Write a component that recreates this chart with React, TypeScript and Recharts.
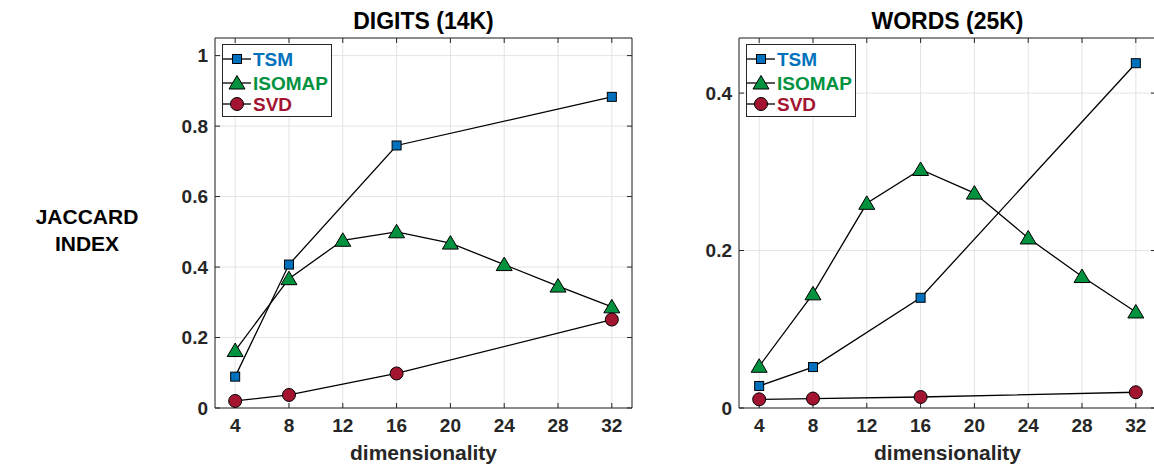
import { LineChart, Line, XAxis, YAxis, CartesianGrid, Legend } from 'recharts';

// dimensionality values per series
const tsmDims = [4, 8, 16, 32];
const isomapDims = [4, 8, 12, 16, 20, 24, 28, 32];
const svdDims = [4, 8, 16, 32];
const xTicks = [4, 8, 12, 16, 20, 24, 28, 32];

// DIGITS (14K)
const digitsTsm = [0.089, 0.407, 0.745, 0.883];
const digitsIsomap = [0.163, 0.367, 0.476, 0.5, 0.468, 0.407, 0.346, 0.287];
const digitsSvd = [0.02, 0.037, 0.098, 0.251];
const digitsTicks = [0, 0.2, 0.4, 0.6, 0.8, 1];

// WORDS (25K)
const wordsTsm = [0.028, 0.052, 0.14, 0.438];
const wordsIsomap = [0.053, 0.145, 0.26, 0.303, 0.273, 0.216, 0.167, 0.122];
const wordsSvd = [0.011, 0.012, 0.014, 0.02];
const wordsTicks = [0, 0.2, 0.4];

const seriesNames = ['TSM', 'ISOMAP', 'SVD'];
const seriesColors = ['#0072BD', '#00923f', '#A2142F'];

const FONT = '"Liberation Sans", Arial, Helvetica, sans-serif';
const AXIS = '#262626';
const GRID = '#e3e3e3';

const toRows = (xs: number[], ys: number[]) => xs.map((x, i) => ({ x, y: ys[i] }));

function Marker({ kind, cx, cy, color }: { kind: number; cx: number; cy: number; color: string }) {
  if (kind === 0) {
    return <rect x={cx - 4.5} y={cy - 4.5} width={9} height={9} fill={color} stroke="#000" strokeWidth={1} />;
  }
  if (kind === 1) {
    return (
      <polygon
        points={`${cx},${cy - 7.5} ${cx - 8},${cy + 6} ${cx + 8},${cy + 6}`}
        fill={color}
        stroke="#000"
        strokeWidth={1}
      />
    );
  }
  return <circle cx={cx} cy={cy} r={6.5} fill={color} stroke="#000" strokeWidth={1} />;
}

const makeDot = (kind: number) => (props: any) => {
  const { cx, cy, index } = props;
  if (cx == null || cy == null) return <g key={`d-${kind}-${index}`} />;
  return (
    <g key={`d-${kind}-${index}`}>
      <Marker kind={kind} cx={cx} cy={cy} color={seriesColors[kind]} />
    </g>
  );
};

function LegendBox() {
  const rows = [14, 38, 59];
  return (
    <div style={{ width: 108, height: 71, border: `1px solid ${AXIS}`, background: '#fff' }}>
      <svg width={108} height={71} style={{ display: 'block' }}>
        {seriesNames.map((name, i) => (
          <g key={name}>
            <line x1={0} x2={28} y1={rows[i]} y2={rows[i]} stroke="#000" strokeWidth={1.3} />
            <Marker kind={i} cx={14} cy={rows[i]} color={seriesColors[i]} />
            <text
              x={30}
              y={rows[i] + 7}
              fill={seriesColors[i]}
              fontSize={19}
              fontWeight="bold"
              fontFamily={FONT}
            >
              {name}
            </text>
          </g>
        ))}
      </svg>
    </div>
  );
}

interface PanelProps {
  title: string;
  left: number;
  tsm: number[];
  isomap: number[];
  svd: number[];
  yMax: number;
  yTicks: number[];
}

function Panel({ title, left, tsm, isomap, svd, yMax, yTicks }: PanelProps) {
  const tickStyle = { fill: AXIS, fontSize: 19, fontWeight: 'bold', fontFamily: FONT };
  const series = [toRows(tsmDims, tsm), toRows(isomapDims, isomap), toRows(svdDims, svd)];
  return (
    <div style={{ position: 'absolute', left, top: 0, width: 660, height: 465 }}>
      <div
        style={{
          position: 'absolute',
          left: 215,
          width: 417,
          top: 10,
          textAlign: 'center',
          fontFamily: FONT,
          fontWeight: 'bold',
          fontSize: 23,
          lineHeight: '23px',
          color: '#000',
        }}
      >
        {title}
      </div>
      <LineChart width={660} height={465} margin={{ top: 37, right: 27, bottom: 0, left: 155 }}>
        <CartesianGrid stroke={GRID} strokeWidth={1} />
        <XAxis
          type="number"
          dataKey="x"
          domain={[2.5, 33.5]}
          ticks={xTicks}
          allowDataOverflow
          height={57}
          tickSize={-5}
          tickMargin={16}
          tick={tickStyle}
          tickLine={{ stroke: AXIS }}
          axisLine={{ stroke: AXIS }}
          label={{
            value: 'dimensionality',
            position: 'insideBottom',
            offset: 5,
            fill: AXIS,
            fontSize: 21,
            fontWeight: 'bold',
            fontFamily: FONT,
          }}
        />
        <XAxis
          xAxisId="top"
          orientation="top"
          type="number"
          dataKey="x"
          domain={[2.5, 33.5]}
          ticks={xTicks}
          allowDataOverflow
          height={1}
          tickSize={-5}
          tickFormatter={() => ''}
          tickLine={{ stroke: AXIS }}
          axisLine={{ stroke: AXIS }}
        />
        <YAxis
          type="number"
          domain={[0, yMax]}
          ticks={yTicks}
          allowDataOverflow
          width={60}
          tickSize={-5}
          tickMargin={12}
          tick={tickStyle}
          tickLine={{ stroke: AXIS }}
          axisLine={{ stroke: AXIS }}
        />
        <YAxis
          yAxisId="right"
          orientation="right"
          type="number"
          domain={[0, yMax]}
          ticks={yTicks}
          allowDataOverflow
          width={1}
          tickSize={-5}
          tickFormatter={() => ''}
          tickLine={{ stroke: AXIS }}
          axisLine={{ stroke: AXIS }}
        />
        <Legend
          layout="vertical"
          align="center"
          verticalAlign="middle"
          wrapperStyle={{ left: 222, top: 44, width: 110, height: 73 }}
          content={() => <LegendBox />}
        />
        {series.map((rows, i) => (
          <Line
            key={seriesNames[i]}
            name={seriesNames[i]}
            data={rows}
            dataKey="y"
            type="linear"
            stroke="#000"
            strokeWidth={1.3}
            dot={makeDot(i)}
            activeDot={false}
            isAnimationActive={false}
          />
        ))}
      </LineChart>
    </div>
  );
}

export default function App() {
  return (
    <div
      style={{
        position: 'fixed',
        left: 0,
        top: 0,
        width: 1154,
        height: 465,
        overflow: 'hidden',
        background: '#fff',
      }}
    >
      <div
        style={{
          position: 'absolute',
          left: 27,
          width: 120,
          top: 203,
          textAlign: 'center',
          fontFamily: FONT,
          fontWeight: 'bold',
          fontSize: 21,
          lineHeight: '27px',
          color: '#000',
        }}
      >
        JACCARD
        <br />
        INDEX
      </div>
      <Panel title="DIGITS (14K)" left={0} tsm={digitsTsm} isomap={digitsIsomap} svd={digitsSvd} yMax={1.05} yTicks={digitsTicks} />
      <Panel title="WORDS (25K)" left={524} tsm={wordsTsm} isomap={wordsIsomap} svd={wordsSvd} yMax={0.47} yTicks={wordsTicks} />
    </div>
  );
}
